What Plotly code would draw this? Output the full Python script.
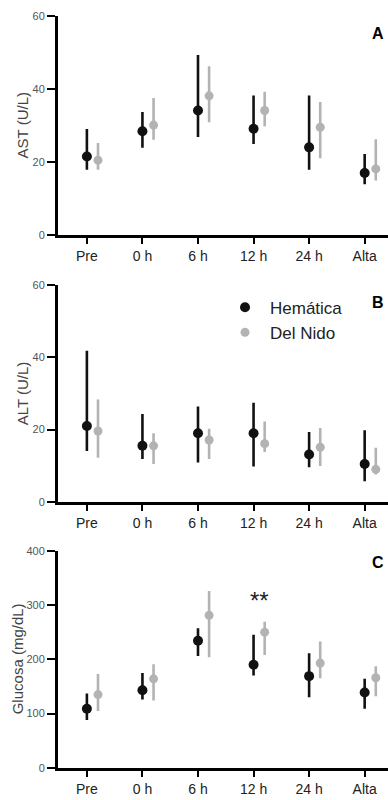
import plotly.graph_objects as go

categories = ["Pre", "0 h", "6 h", "12 h", "24 h", "Alta"]

ast_hem = [21.5, 28.4, 34.1, 29.1, 24.0, 17.0]
ast_hem_hi = [29.0, 33.7, 49.3, 38.2, 38.2, 22.2]
ast_hem_lo = [17.9, 23.9, 26.8, 24.9, 17.9, 13.9]
ast_dn = [20.5, 30.1, 38.1, 34.1, 29.5, 18.1]
ast_dn_hi = [25.2, 37.5, 46.2, 39.2, 36.4, 26.2]
ast_dn_lo = [17.9, 26.1, 30.9, 29.8, 21.0, 14.9]

alt_hem = [21.0, 15.5, 19.0, 19.0, 13.1, 10.5]
alt_hem_hi = [41.8, 24.3, 26.4, 27.4, 19.3, 19.8]
alt_hem_lo = [14.1, 11.9, 10.9, 9.8, 9.6, 5.7]
alt_dn = [19.6, 15.5, 17.1, 16.1, 15.1, 9.0]
alt_dn_hi = [28.3, 19.0, 20.2, 22.2, 20.4, 15.0]
alt_dn_lo = [12.2, 10.5, 11.9, 13.8, 9.9, 7.6]

glu_hem = [109, 143, 234, 190, 169, 139]
glu_hem_hi = [137, 175, 257, 245, 211, 164]
glu_hem_lo = [88, 126, 206, 170, 130, 109]
glu_dn = [135, 164, 281, 250, 193, 166]
glu_dn_hi = [173, 191, 326, 269, 233, 187]
glu_dn_lo = [105, 124, 204, 208, 165, 132]

panels = [
    ("A", "AST (U/L)", [0, 60], [0, 20, 40, 60],
     (ast_hem, ast_hem_hi, ast_hem_lo), (ast_dn, ast_dn_hi, ast_dn_lo)),
    ("B", "ALT (U/L)", [0, 60], [0, 20, 40, 60],
     (alt_hem, alt_hem_hi, alt_hem_lo), (alt_dn, alt_dn_hi, alt_dn_lo)),
    ("C", "Glucosa (mg/dL)", [0, 400], [0, 100, 200, 300, 400],
     (glu_hem, glu_hem_hi, glu_hem_lo), (glu_dn, glu_dn_hi, glu_dn_lo)),
]

W, H = 388, 800
L = 58
# pixel tops / bottoms of each plot area
tops = [10, 283, 553]
bottoms = [232.5, 503.5, 773.5]
label_y = [28, 301, 565]
title_x = [22, 22, 17]

FONT = "Arial, Liberation Sans, sans-serif"
BLACK = "#111111"
GREY = "#b3b3b3"
OFFSET = 0.2

fig = go.Figure()
annotations = []

for k, (lab, ytitle, yr, yt, hem, dn) in enumerate(panels):
    sfx = "" if k == 0 else str(k + 1)
    xa, ya = "x" + sfx, "y" + sfx
    xs = list(range(len(categories)))
    for grp, (m, hi, lo), col, size, name, off in [
        ("hem", hem, BLACK, 10, "Hemática", 0.0),
        ("dn", dn, GREY, 9, "Del Nido", OFFSET),
    ]:
        fig.add_trace(go.Scatter(
            x=[x + off for x in xs], y=m, mode="markers", name=name,
            xaxis=xa, yaxis=ya, showlegend=(k == 1),
            marker=dict(color=col, size=size, line=dict(width=0)),
            error_y=dict(type="data", symmetric=False,
                         array=[h - v for h, v in zip(hi, m)],
                         arrayminus=[v - l for v, l in zip(m, lo)],
                         color=col, thickness=2.6, width=0),
        ))
    dom = [1 - bottoms[k] / H, 1 - tops[k] / H]
    fig.update_layout(**{
        "xaxis" + sfx: dict(
            domain=[0, 1], range=[-0.52, 5.42], anchor=ya,
            tickvals=xs, ticktext=categories, showline=True, linewidth=3,
            linecolor="black", ticks="outside", ticklen=6, tickwidth=2,
            tickcolor="black", showgrid=False, zeroline=False,
            tickfont=dict(family=FONT, size=14, color="#222222"),
        ),
        "yaxis" + sfx: dict(
            domain=dom, range=yr, anchor=xa, tickvals=yt,
            showline=True, linewidth=3, linecolor="black",
            ticks="outside", ticklen=8, tickwidth=2, tickcolor="black",
            showgrid=False, zeroline=False,
            tickfont=dict(family=FONT, size=11, color="#555555"),
        ),
    })
    annotations.append(dict(
        text=lab, xref="paper", yref="paper",
        x=(378 - L) / (W - L), y=1 - label_y[k] / H,
        xanchor="center", yanchor="middle", showarrow=False,
        font=dict(family=FONT, size=16, color="black", weight="bold"),
    ))
    annotations.append(dict(
        text=ytitle, xref="paper", yref="paper", textangle=-90,
        x=(title_x[k] - L) / (W - L), y=(dom[0] + dom[1]) / 2,
        xanchor="center", yanchor="middle", showarrow=False,
        font=dict(family=FONT, size=15, color="#444444"),
    ))

annotations.append(dict(
    text="**", xref="x3", yref="y3", x=3 + OFFSET / 2, y=308,
    xanchor="center", yanchor="middle", showarrow=False,
    font=dict(family=FONT, size=24, color="#222222"),
))

fig.update_layout(
    width=W, height=H,
    margin=dict(l=L, r=0, t=0, b=0),
    paper_bgcolor="white", plot_bgcolor="white",
    annotations=annotations,
    legend=dict(
        x=(220 - L) / (W - L), y=1 - 288 / H, xanchor="left", yanchor="top",
        font=dict(family=FONT, size=17, color="#222222"),
        bgcolor="rgba(0,0,0,0)", tracegroupgap=0, itemwidth=40,
    ),
)

fig.write_html("out.html")
